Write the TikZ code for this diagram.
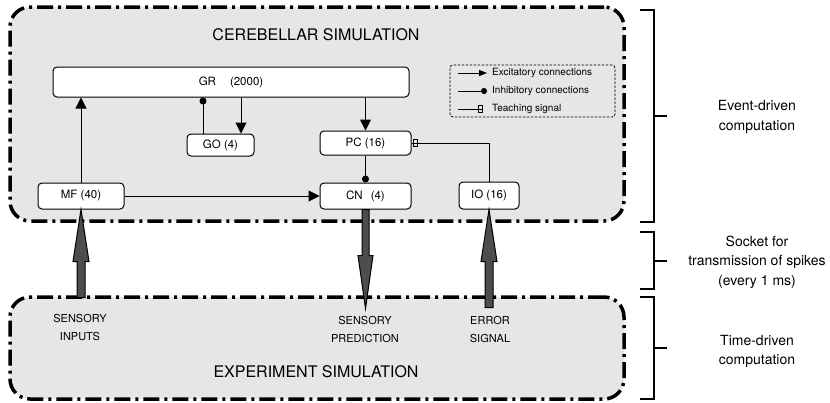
\documentclass[tikz,border=0pt]{standalone}
\usepackage{fontspec}
\setmainfont{TeX Gyre Heros}
\usetikzlibrary{arrows.meta,calc}
\definecolor{panel}{HTML}{E6E6E6}
\definecolor{blockfill}{HTML}{4D4D4D}
\tikzset{
 container/.style={draw=black, fill=panel, line width=3.5pt, dash pattern=on 16pt off 5pt on 3pt off 5pt, rounded corners=20pt, inner sep=0pt},
 cell/.style={draw=black, fill=white, line width=1pt, rounded corners=4pt, inner sep=0pt, font=\fontsize{11.5}{13}\selectfont},
 excit/.style={line width=1pt, -{Triangle[length=11pt,width=11pt]}},
 inhib/.style={line width=1pt, -{Circle[length=7pt]}},
 teach/.style={line width=1pt},
 blockarrow/.style={draw=black, fill=blockfill, line width=1pt, line join=miter},
 bracketline/.style={line width=2.5pt},
 sidetext/.style={align=center, font=\fontsize{14}{19.5}\selectfont},
 iolabel/.style={align=center, font=\fontsize{11}{18}\selectfont},
 legtext/.style={anchor=west, font=\fontsize{10}{12}\selectfont, inner sep=0pt},
 legbox/.style={draw=black, line width=0.8pt, dash pattern=on 2.5pt off 1.5pt, rounded corners=3pt, inner sep=0pt},
 legexc/.style={line width=1pt, -{Triangle[length=8pt,width=6pt]}},
 leginh/.style={line width=1pt, -{Circle[length=6pt]}},
 titletext/.style={font=\fontsize{16}{18}\selectfont},
}
\begin{document}
\begin{tikzpicture}[x=1pt,y=-1pt]
\useasboundingbox (0,0) rectangle (830,402);

% containers
\node[container, minimum width=614pt, minimum height=214pt] (cereb) at (317,114) {};
\node[container, minimum width=614pt, minimum height=102pt] (expt) at (317,348) {};
\node[titletext] (ctitle) at (316,35) {CEREBELLAR SIMULATION};
\node[titletext] (etitle) at (316,372) {EXPERIMENT SIMULATION};

% cells
\node[cell, minimum width=356pt, minimum height=30pt] (gr) at (231,82) {GR\hspace{14pt}(2000)};
\node[cell, minimum width=67pt, minimum height=22pt] (go) at (220.5,145) {GO (4)};
\node[cell, minimum width=91pt, minimum height=24pt] (pc) at (365.5,143) {PC (16)};
\node[cell, minimum width=86pt, minimum height=26pt] (mf) at (81,196) {MF (40)};
\node[cell, minimum width=91pt, minimum height=26pt] (cn) at (365.5,196) {CN\hspace{8pt}(4)};
\node[cell, minimum width=60pt, minimum height=27pt] (io) at (489,195.5) {IO (16)};

% connection anchors on GO
\coordinate (goL) at ($(go.north)+(-17.5,0)$);
\coordinate (goR) at ($(go.north)+(20.5,0)$);

% connections
\draw[excit] (mf.north) -- (mf.north |- gr.south);
\draw[excit] (mf.east) -- (cn.west);
\draw[inhib] (goL) -- (goL |- gr.south);
\draw[excit] (goR |- gr.south) -- (goR);
\draw[excit] (pc.north |- gr.south) -- (pc.north);
\draw[inhib] (pc.south) -- (cn.north);
\draw[teach] (io.north) |- (pc.east);
\draw[line width=0.8pt] ($(pc.east)+(1.5,-3.5)$) rectangle ++(4,7);

% legend
\node[legbox, minimum width=165pt, minimum height=52pt] (legend) at (532.5,91) {};
\coordinate (l1a) at (458,73); \coordinate (l1b) at (487,73);
\draw[legexc] (l1a) -- (l1b);
\node[legtext] (lt1) at (492,73) {Excitatory connections};
\coordinate (l2a) at (458,91); \coordinate (l2b) at (487,91);
\draw[leginh] (l2a) -- (l2b);
\node[legtext] (lt2) at (492,91) {Inhibitory connections};
\coordinate (l3a) at (458,109); \coordinate (l3b) at (482,109);
\draw[teach] (l3a) -- (l3b);
\draw[line width=0.8pt] (478.5,105.5) rectangle ++(4,7);
\node[legtext] (lt3) at (492,109) {Teaching signal};

% block arrows
\draw[blockarrow] (mf.south) -- ++(8,52) -- ++(-4,0) -- ++(0,36) -- ++(-8,0) -- ++(0,-36) -- ++(-4,0) -- cycle;
\draw[blockarrow] ($(cn.south)+(-3.5,0)$) -- ++(0,46) -- ++(-4,0) -- ++(7.5,53) -- ++(7.5,-53) -- ++(-4,0) -- ++(0,-46) -- cycle;
\draw[blockarrow] (io.south) -- ++(8,52) -- ++(-4,0) -- ++(0,46) -- ++(-8,0) -- ++(0,-46) -- ++(-4,0) -- cycle;

\node[iolabel] (lin) at (80,327) {SENSORY\\INPUTS};
\node[iolabel] (lpred) at (365,329) {SENSORY\\PREDICTION};
\node[iolabel] (lerr) at (490,329) {ERROR\\SIGNAL};

% brackets
\draw[bracketline] (640,10) -- (654,10) -- (654,222) -- (640,222);
\draw[bracketline] (654,116) -- (667,116);
\draw[bracketline] (640,232) -- (654,232) -- (654,289) -- (640,289);
\draw[bracketline] (654,261) -- (667,261);
\draw[bracketline] (640,297) -- (654,297) -- (654,399) -- (640,399);
\draw[bracketline] (654,348) -- (667,348);

\node[sidetext] (ev) at (757,117) {Event-driven\\computation};
\node[sidetext] (so) at (757,262) {Socket for\\transmission of spikes\\(every 1 ms)};
\node[sidetext] (td) at (757,351.5) {Time-driven\\computation};
\end{tikzpicture}
\end{document}
